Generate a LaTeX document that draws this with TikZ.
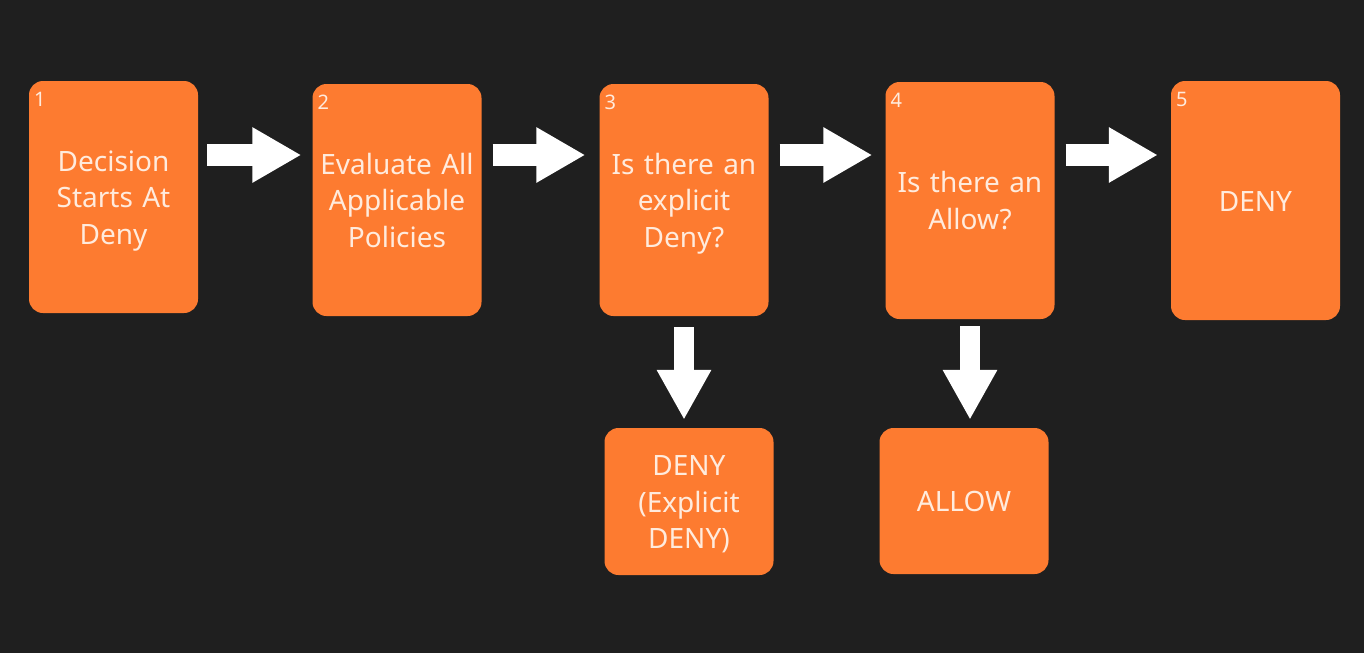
\documentclass[tikz,border=0pt]{standalone}
\usepackage{fontspec}
\setmainfont{Noto Sans}
\usetikzlibrary{calc,arrows.meta}
\definecolor{bg}{HTML}{1F1F1F}
\definecolor{orng}{HTML}{FD7B30}
\definecolor{txt}{HTML}{FFEBDD}
\tikzset{
  card/.style={rectangle, rounded corners=14pt, fill=orng, draw=none,
    minimum width=169pt, text width=160pt, align=center, text=txt,
    font=\fontsize{28pt}{36.5pt}\selectfont, inner sep=0pt,
    execute at begin node={\rule{0pt}{32pt}},
    execute at end node={\rule[-10.95pt]{0pt}{10.95pt}}},
  numlbl/.style={anchor=north west, text=txt, font=\fontsize{20pt}{20pt}\selectfont, inner sep=0pt},
  blk/.style={draw=white, line width=22pt, -{Triangle[width=52pt,length=49pt]}},
  blkv/.style={draw=white, line width=20pt, -{Triangle[width=51pt,length=50pt]}},
}
\begin{document}
\begin{tikzpicture}[x=1pt,y=-1pt]
\fill[bg] (0,0) rectangle (1364,653);
\useasboundingbox (0,0) rectangle (1364,653);
\coordinate (ya) at (0,155);
\node[card, minimum height=232pt] (b1) at (113.5,197) {Decision\\Starts At\\Deny};
\node[card, minimum height=232pt] (b2) at (397,200) {Evaluate All\\Applicable\\Policies};
\node[card, minimum height=232pt] (b3) at (684,200) {Is there an\\explicit\\Deny?};
\node[card, minimum height=237pt] (b4) at (970,200.5) {Is there an\\Allow?};
\node[card, minimum height=239pt] (b5) at (1255.5,200.5) {DENY};
\node[card, minimum height=147pt] (b6) at (689,501.5) {DENY\\(Explicit\\DENY)};
\node[card, minimum height=146pt] (b7) at (964,501) {ALLOW};
\node[numlbl] (n1) at ($(b1.north west)+(5,11)$) {1};
\node[numlbl] (n2) at ($(b2.north west)+(5,11)$) {2};
\node[numlbl] (n3) at ($(b3.north west)+(5,11)$) {3};
\node[numlbl] (n4) at ($(b4.north west)+(5,11)$) {4};
\node[numlbl] (n5) at ($(b5.north west)+(5,11)$) {5};
\draw[blk] ($(b1.east |- ya)+(9,0)$) -- ($(b2.west |- ya)+(-11,0)$);
\draw[blk] ($(b2.east |- ya)+(11,0)$) -- ($(b3.west |- ya)+(-14,0)$);
\draw[blk] ($(b3.east |- ya)+(11,0)$) -- ($(b4.west |- ya)+(-13,0)$);
\draw[blk] ($(b4.east |- ya)+(11,0)$) -- ($(b5.west |- ya)+(-13,0)$);
\draw[blkv] ($(b3.south)+(0,11)$) -- ($(b3.south |- b6.north)+(0,-8)$);
\draw[blkv] ($(b4.south)+(0,7)$) -- ($(b4.south |- b7.north)+(0,-8)$);
\end{tikzpicture}
\end{document}
